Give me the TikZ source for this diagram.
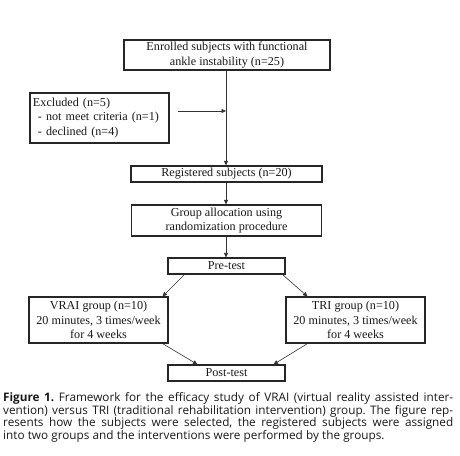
\documentclass[tikz,border=0pt]{standalone}
\usepackage{fontspec}
\setmainfont{Liberation Serif}
\newfontfamily\capfont{Open Sans}
\newcommand\capstyle{\capfont\fontsize{11.8}{12.6}\selectfont\frenchspacing\spaceskip=0.27em plus 0.3em minus 0.14em\relax}
\usetikzlibrary{arrows.meta}
\tikzset{
  box/.style={draw=black!85, line width=1.1bp, inner sep=0pt, align=center,
    font=\fontsize{12.2}{14.8}\selectfont, text=black!90},
  arr/.style={draw=black!80, line width=0.6bp, -{Triangle[length=4.5bp,width=4bp]}},
}
\begin{document}
\begin{tikzpicture}[x=1bp,y=-1bp]
\useasboundingbox[fill=white] (0,0) rectangle (460,456);
\node[box, minimum width=206bp, minimum height=30bp] (enr) at (227,55)
  {Enrolled subjects with functional\\ankle instability (n=25)};
\node[box, minimum width=139bp, minimum height=50bp, align=left, text width=133bp] (exc) at (99.5,118)
  {Excluded (n=5)\\\hspace*{5bp}- not meet criteria (n=1)\\\hspace*{5bp}- declined (n=4)};
\node[box, minimum width=191bp, minimum height=16bp] (reg) at (226.5,174)
  {Registered subjects (n=20)};
\node[box, minimum width=190bp, minimum height=31bp] (grp) at (226.5,220.5)
  {Group allocation using\\randomization procedure};
\node[box, minimum width=117bp, minimum height=16bp] (pre) at (226.5,266)
  {Pre-test};
\node[box, minimum width=139bp, minimum height=46bp] (vrai) at (98.5,320)
  {VRAI group (n=10)\\20 minutes, 3 times/week\\for 4 weeks};
\node[box, minimum width=139bp, minimum height=46bp] (tri) at (355.5,320)
  {TRI group (n=10)\\20 minutes, 3 times/week\\for 4 weeks};
\node[box, minimum width=117bp, minimum height=16bp] (post) at (226.5,373)
  {Post-test};
\coordinate (j) at (226,111);
\draw[arr] (enr.south -| j) -- (reg.north -| j);
\draw[arr] ([xshift=8bp]exc.east |- j) -- (j);
\draw[arr] (reg.south -| j) -- (grp.north -| j);
\draw[arr] (grp.south -| j) -- (pre.north -| j);
\draw[arr] ([xshift=-42bp]pre.south) -- ([xshift=64bp]vrai.north);
\draw[arr] ([xshift=56bp]pre.south) -- ([xshift=-48bp]tri.north);
\draw[arr] ([xshift=64bp]vrai.south) -- ([xshift=-29bp]post.north);
\draw[arr] ([xshift=-48bp]tri.south) -- ([xshift=47bp]post.north);
\node[anchor=north west, inner sep=0pt, text width=450bp, align=justify,
  font=\capstyle, text=black!90] (cap) at (3,392.5)
  {\textbf{Figure 1.} Framework for the efficacy study of VRAI (virtual reality assisted inter-\linebreak
  vention) versus TRI (traditional rehabilitation intervention) group. The figure rep-\linebreak
  resents how the subjects were selected, the registered subjects were assigned\linebreak
  into two groups and the interventions were performed by the groups.\par};
\end{tikzpicture}
\end{document}
